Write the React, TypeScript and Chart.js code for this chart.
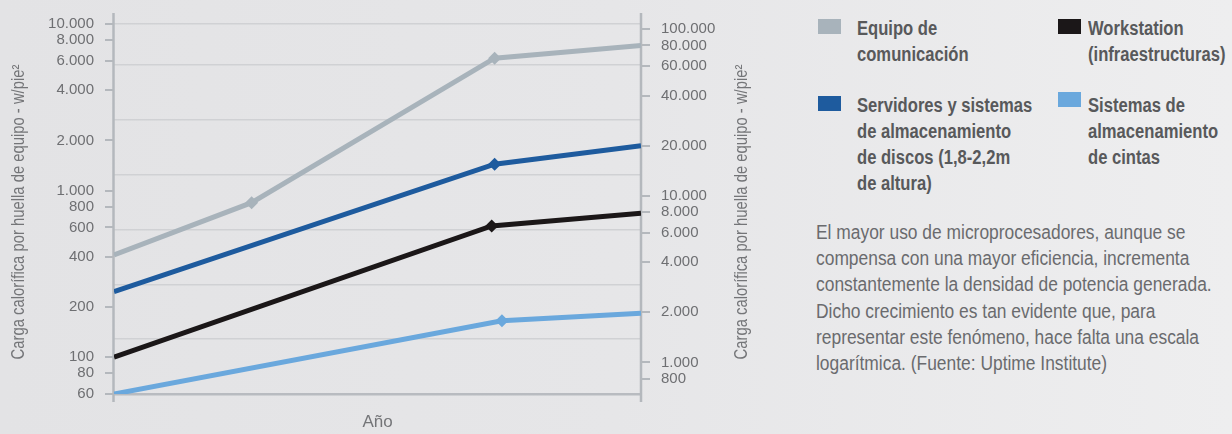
import React, { useEffect, useRef } from "react";
import { Chart, registerables } from "chart.js";

Chart.register(...registerables);

// ---- Data ----
const X_MIN = 1992;
const X_MAX = 2010;

const COMM_YEARS = [1992, 1996.7, 2005, 2010];
const COMM_VALUES = [410, 845, 6230, 7420];
const COMM_MARKERS = [0, 1, 1, 0];

const SERV_YEARS = [1992, 2005, 2010];
const SERV_VALUES = [247, 1440, 1860];
const SERV_MARKERS = [0, 1, 0];

const WS_YEARS = [1992, 2004.9, 2010];
const WS_VALUES = [100, 613, 730];
const WS_MARKERS = [0, 1, 0];

const TAPE_YEARS = [1992, 2005.25, 2010];
const TAPE_VALUES = [60, 165, 183];
const TAPE_MARKERS = [0, 1, 0];

const LEFT_TICKS = [60, 80, 100, 200, 400, 600, 800, 1000, 2000, 4000, 6000, 8000, 10000];
const RIGHT_TICKS = [800, 1000, 2000, 4000, 6000, 8000, 10000, 20000, 40000, 60000, 80000, 100000];
const LEFT_MIN = 60;
const LEFT_MAX = 10000;
const M2_PER_FT2 = 10.764;
const GRID_STEPS = [0, 1, 2, 3, 4, 5, 6, 6.75];

const AXIS_TITLE = "Carga calorífica por huella de equipo - w/pie²";
const X_TITLE = "Año";

const LEGEND = [
  { label: "Equipo de\ncomunicación", color: "#a8b3bb" },
  { label: "Workstation\n(infraestructuras)", color: "#1b1718" },
  { label: "Servidores y sistemas\nde almacenamiento\nde discos (1,8-2,2m\nde altura)", color: "#1e5b9e" },
  { label: "Sistemas de\nalmacenamiento\nde cintas", color: "#6aa8dd" },
];

const NOTE_LINES = [
  "El mayor uso de microprocesadores, aunque se",
  "compensa con una mayor eficiencia, incrementa",
  "constantemente la densidad de potencia generada.",
  "Dicho crecimiento es tan evidente que, para",
  "representar este fenómeno, hace falta una escala",
  "logarítmica. (Fuente: Uptime Institute)",
];

// ---- Styles ----
const SANS = "'Liberation Sans', Arial, sans-serif";
const AXIS_COLOR = "#b4b8bd";
const GRID_COLOR = "#d0d1d4";
const TICK_COLOR = "#6e6f72";
const TITLE_COLOR = "#747578";

const fmt = (v: number) => String(Math.round(v)).replace(/\B(?=(\d{3})+(?!\d))/g, ".");

const mk = (years: number[], vals: number[], markers: number[], color: string, label: string) => ({
  label,
  data: years.map((x, i) => ({ x, y: vals[i] })),
  borderColor: color,
  backgroundColor: color,
  borderWidth: 5,
  pointStyle: "rectRot",
  pointRadius: markers.map((m) => (m ? 6.5 : 0)),
  pointHoverRadius: 0,
  pointBorderWidth: 0,
  pointBackgroundColor: color,
  tension: 0,
  yAxisID: "y",
});

const axisPlugin = {
  id: "axisLines",
  beforeDatasetsDraw(chart: any) {
    const { ctx, chartArea } = chart;
    const { left, right, top, bottom } = chartArea;
    ctx.save();
    ctx.strokeStyle = AXIS_COLOR;
    ctx.lineWidth = 2.5;
    [left - 0.5, right].forEach((x) => {
      ctx.beginPath();
      ctx.moveTo(x, top - 11);
      ctx.lineTo(x, bottom + 8);
      ctx.stroke();
    });
    ctx.restore();
  },
  afterDraw(chart: any) {
    const { ctx, chartArea } = chart;
    const cy = (chartArea.top + chartArea.bottom) / 2;
    [19, 742].forEach((cx) => {
      ctx.save();
      ctx.fillStyle = TITLE_COLOR;
      ctx.font = `18px ${SANS}`;
      ctx.textAlign = "center";
      ctx.textBaseline = "middle";
      ctx.translate(cx, cy + 3);
      ctx.rotate(-Math.PI / 2);
      ctx.scale(0.823, 1);
      ctx.fillText(AXIS_TITLE, 0, 0);
      ctx.restore();
    });
  },
};

function ChartCanvas() {
  const ref = useRef<HTMLCanvasElement>(null);
  useEffect(() => {
    if (!ref.current) return;
    const chart = new Chart(ref.current, {
      type: "line",
      data: {
        datasets: [
          mk(COMM_YEARS, COMM_VALUES, COMM_MARKERS, LEGEND[0].color, "Equipo de comunicación"),
          mk(SERV_YEARS, SERV_VALUES, SERV_MARKERS, LEGEND[2].color, "Servidores"),
          mk(WS_YEARS, WS_VALUES, WS_MARKERS, LEGEND[1].color, "Workstation"),
          mk(TAPE_YEARS, TAPE_VALUES, TAPE_MARKERS, LEGEND[3].color, "Cintas"),
        ] as any,
      },
      options: {
        responsive: false,
        animation: false,
        layout: { padding: { top: 24, left: 0, right: 0, bottom: 0 } },
        plugins: { legend: { display: false }, tooltip: { enabled: false } },
        events: [],
        scales: {
          x: {
            type: "linear",
            min: X_MIN,
            max: X_MAX,
            ticks: { display: false },
            grid: { display: false, drawTicks: false },
            border: { display: true, color: "#b8bbc0", width: 2.5 },
            title: {
              display: true,
              text: X_TITLE,
              color: TITLE_COLOR,
              font: { family: SANS, size: 17 },
              padding: { top: 0, bottom: 1 },
            },
            afterFit: (s: any) => {
              s.height = 40;
            },
          },
          y: {
            type: "logarithmic",
            position: "left",
            min: LEFT_MIN,
            max: LEFT_MAX,
            afterBuildTicks: (s: any) => {
              s.ticks = LEFT_TICKS.map((v) => ({ value: v }));
            },
            ticks: {
              color: TICK_COLOR,
              font: { family: SANS, size: 15 },
              padding: 11,
              autoSkip: false,
              callback: (v: any) => fmt(Number(v)),
            },
            grid: { drawOnChartArea: false, drawTicks: true, tickLength: 9, tickColor: AXIS_COLOR, lineWidth: 2 },
            border: { display: false },
            afterFit: (s: any) => {
              s.width = 114;
            },
          },
          y2: {
            type: "logarithmic",
            position: "right",
            min: LEFT_MIN * M2_PER_FT2,
            max: LEFT_MAX * M2_PER_FT2,
            afterBuildTicks: (s: any) => {
              s.ticks = RIGHT_TICKS.map((v) => ({ value: v }));
            },
            ticks: {
              color: TICK_COLOR,
              font: { family: SANS, size: 15 },
              padding: 11,
              autoSkip: false,
              callback: (v: any) => fmt(Number(v)),
            },
            grid: { drawOnChartArea: false, drawTicks: true, tickLength: 9, tickColor: AXIS_COLOR, lineWidth: 2 },
            border: { display: false },
            afterFit: (s: any) => {
              s.width = 149;
            },
          },
          g: {
            type: "linear",
            position: "right",
            min: 0,
            max: GRID_STEPS[GRID_STEPS.length - 1],
            afterBuildTicks: (s: any) => {
              s.ticks = GRID_STEPS.map((v) => ({ value: v }));
            },
            ticks: { display: false },
            grid: { color: GRID_COLOR, lineWidth: 1.5, drawTicks: false },
            border: { display: false },
            afterFit: (s: any) => {
              s.width = 0;
            },
          },
        },
      } as any,
      plugins: [axisPlugin],
    });
    return () => chart.destroy();
  }, []);
  return <canvas ref={ref} width={790} height={434} style={{ position: "absolute", left: 0, top: 0 }} />;
}

export default function App() {
  const legendPos = [
    { left: 818, top: 19, textLeft: 857, textTop: 15 },
    { left: 1058, top: 19, textLeft: 1088, textTop: 15 },
    { left: 818, top: 96, textLeft: 857, textTop: 92 },
    { left: 1058, top: 92, textLeft: 1088, textTop: 92 },
  ];
  return (
    <div
      style={{
        position: "fixed",
        left: 0,
        top: 0,
        width: 1232,
        height: 434,
        overflow: "hidden",
        background: "linear-gradient(to right, #e3e3e5 0%, #e6e6e8 50%, #eeeeef 100%)",
      }}
    >
      <ChartCanvas />
      {LEGEND.map((item, i) => (
        <React.Fragment key={i}>
          <div
            style={{
              position: "absolute",
              left: legendPos[i].left,
              top: legendPos[i].top,
              width: 23,
              height: 15,
              background: item.color,
            }}
          />
          <div
            style={{
              position: "absolute",
              left: legendPos[i].textLeft,
              top: legendPos[i].textTop,
              fontFamily: SANS,
              fontWeight: "bold",
              fontSize: 20,
              lineHeight: "26px",
              color: "#58595b",
              whiteSpace: "pre",
              transform: "scaleX(0.83)",
              transformOrigin: "0 0",
            }}
          >
            {item.label}
          </div>
        </React.Fragment>
      ))}
      <div
        style={{
          position: "absolute",
          left: 816,
          top: 219,
          fontFamily: SANS,
          fontSize: 20,
          lineHeight: "26.2px",
          color: "#6a6b6e",
          whiteSpace: "pre",
          transform: "scaleX(0.87)",
          transformOrigin: "0 0",
        }}
      >
        {NOTE_LINES.join("\n")}
      </div>
    </div>
  );
}
